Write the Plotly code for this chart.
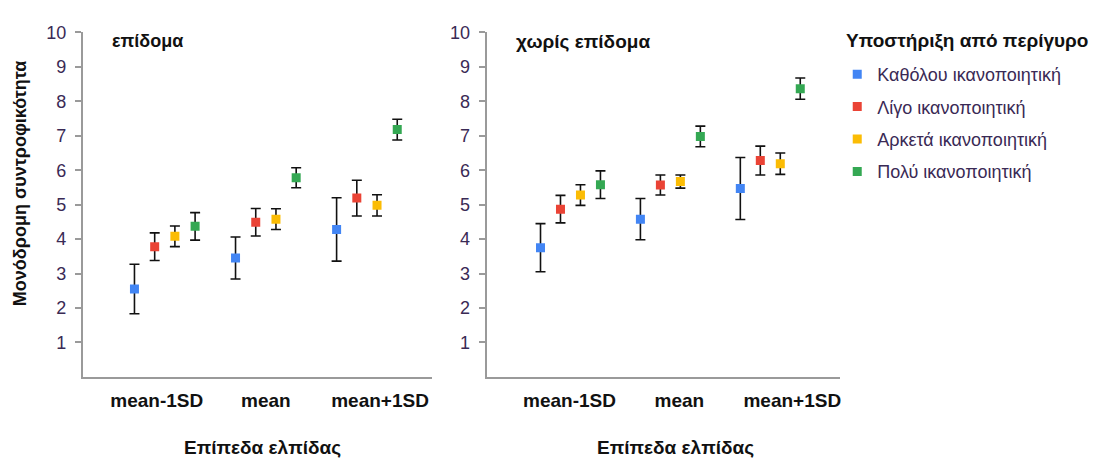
import plotly.graph_objects as go

categories = ["mean-1SD", "mean", "mean+1SD"]
series_names = ["Καθόλου ικανοποιητική", "Λίγο ικανοποιητική",
                "Αρκετά ικανοποιητική", "Πολύ ικανοποιητική"]
series_colors = ["#4285F4", "#EA4335", "#FBBC04", "#34A853"]

# panel 1: επίδομα
benefit_means = [
    [2.55, 3.45, 4.28],
    [3.78, 4.49, 5.19],
    [4.08, 4.58, 4.98],
    [4.37, 5.78, 7.18],
]
benefit_err = [
    [0.72, 0.61, 0.92],
    [0.40, 0.40, 0.52],
    [0.30, 0.30, 0.31],
    [0.40, 0.29, 0.30],
]
# panel 2: χωρίς επίδομα
nobenefit_means = [
    [3.75, 4.58, 5.47],
    [4.87, 5.57, 6.28],
    [5.28, 5.67, 6.19],
    [5.58, 6.98, 8.37],
]
nobenefit_err = [
    [0.70, 0.60, 0.90],
    [0.40, 0.29, 0.42],
    [0.30, 0.19, 0.31],
    [0.40, 0.30, 0.31],
]
yticks = [1, 2, 3, 4, 5, 6, 7, 8, 9, 10]

W, H = 1097, 459
FONT = "Liberation Sans, Arial, sans-serif"
TXT = "#3a2a55"
AXC = "#9a9a9a"

fig = go.Figure()
offsets = [-0.3, -0.1, 0.1, 0.3]

for panel, (means, errs) in enumerate([(benefit_means, benefit_err),
                                       (nobenefit_means, nobenefit_err)]):
    xa = "x" if panel == 0 else "x2"
    ya = "y" if panel == 0 else "y2"
    for j, name in enumerate(series_names):
        fig.add_trace(go.Scatter(
            x=[i + offsets[j] for i in range(len(categories))],
            y=means[j],
            mode="markers",
            name=name,
            legendgroup=name,
            showlegend=(panel == 0),
            marker=dict(symbol="square", size=9, color=series_colors[j]),
            error_y=dict(type="data", array=errs[j], visible=True,
                         color="#111111", thickness=1.6, width=5),
            xaxis=xa, yaxis=ya,
        ))

def px_x(p):
    return p / W

def px_y(p):
    return 1 - p / H

ydom = [px_y(375), px_y(23)]
common_x = dict(
    tickmode="array", ticktext=categories,
    showline=True, linecolor=AXC, linewidth=2, ticks="",
    showgrid=False, zeroline=False,
    tickfont=dict(family=FONT, size=19, color="#111111", weight="bold"),
    ticklabelstandoff=5,
)
common_y = dict(
    range=[0, 10], tickmode="array", tickvals=yticks,
    showline=True, linecolor=AXC, linewidth=2,
    ticks="outside", ticklen=6, tickcolor=AXC, tickwidth=1.5,
    showgrid=False, zeroline=False,
    tickfont=dict(family=FONT, size=18, color=TXT),
    ticklabelstandoff=5,
    domain=ydom,
)
fig.update_layout(
    width=W, height=H,
    margin=dict(l=0, r=0, t=0, b=0),
    paper_bgcolor="white", plot_bgcolor="white",
    xaxis=dict(domain=[px_x(83), px_x(432)], range=[-0.81, 2.64], anchor="y",
               tickvals=[-0.08, 1.0, 2.13], **common_x),
    xaxis2=dict(domain=[px_x(487), px_x(841)], range=[-0.84, 2.70], anchor="y2",
                tickvals=[-0.01, 1.09, 2.22], **common_x),
    yaxis=dict(anchor="x", **common_y),
    yaxis2=dict(anchor="x2", **common_y),
    showlegend=True,
    legend=dict(
        x=px_x(838), y=px_y(47), xanchor="left", yanchor="top",
        font=dict(family=FONT, size=18, color=TXT),
        tracegroupgap=6, itemwidth=30, bgcolor="rgba(0,0,0,0)",
    ),
)

BOLD = dict(family=FONT, color="#111111", weight="bold")
ann = [
    dict(text="επίδομα", x=px_x(110), y=px_y(32), xanchor="left", yanchor="middle",
         font=dict(size=18, **BOLD)),
    dict(text="χωρίς επίδομα", x=px_x(514), y=px_y(32), xanchor="left", yanchor="middle",
         font=dict(size=19, **BOLD)),
    dict(text="Υποστήριξη από περίγυρο", x=px_x(845), y=px_y(32), xanchor="left", yanchor="middle",
         font=dict(size=19, **BOLD)),
    dict(text="Επίπεδα ελπίδας", x=px_x(263), y=px_y(447), xanchor="center", yanchor="middle",
         font=dict(size=19, **BOLD)),
    dict(text="Επίπεδα ελπίδας", x=px_x(676), y=px_y(447), xanchor="center", yanchor="middle",
         font=dict(size=19, **BOLD)),
    dict(text="Μονόδρομη συντροφικότητα", x=px_x(20), y=px_y(177), xanchor="center", yanchor="middle",
         textangle=-90, font=dict(size=18, **BOLD)),
]
for a in ann:
    a.update(xref="paper", yref="paper", showarrow=False)
fig.update_layout(annotations=ann)

fig.write_html("out.html")
